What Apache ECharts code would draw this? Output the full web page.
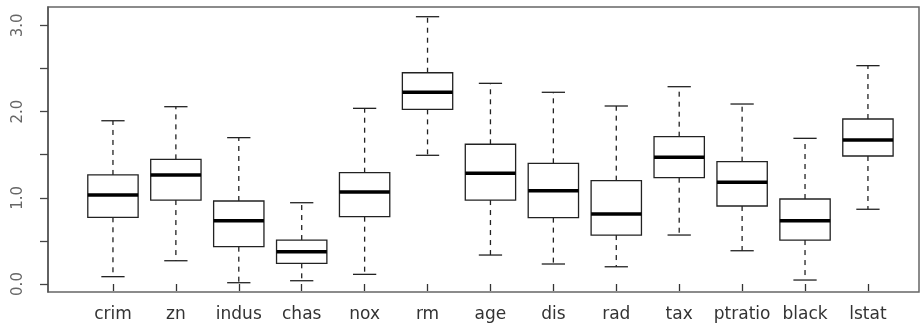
<!DOCTYPE html>
<html>
<head>
<meta charset="utf-8">
<script src="https://cdn.jsdelivr.net/npm/echarts@6/dist/echarts.min.js"></script>
<style>html,body{margin:0;padding:0;background:#fff;}#c{width:921px;height:328px;}</style>
</head>
<body>
<div id="c"></div>
<script>
const categories = ['crim','zn','indus','chas','nox','rm','age','dis','rad','tax','ptratio','black','lstat'];
const lowerWhisker = [0.085, 0.27, 0.015, 0.038, 0.112, 1.493, 0.336, 0.232, 0.20, 0.568, 0.386, 0.046, 0.867];
const q1Values     = [0.774, 0.974, 0.433, 0.24, 0.781, 2.026, 0.974, 0.77, 0.568, 1.233, 0.905, 0.51, 1.485];
const medianValues = [1.033, 1.265, 0.735, 0.375, 1.067, 2.224, 1.284, 1.083, 0.812, 1.47, 1.18, 0.735, 1.671];
const q3Values     = [1.265, 1.446, 0.963, 0.51, 1.291, 2.451, 1.621, 1.40, 1.199, 1.709, 1.419, 0.986, 1.914];
const upperWhisker = [1.894, 2.057, 1.698, 0.943, 2.038, 3.101, 2.328, 2.224, 2.065, 2.289, 2.088, 1.69, 2.533];
const yTickValues = [0, 0.5, 1, 1.5, 2, 2.5, 3];
const yLabelValues = [0, 1, 2, 3];
const yMin = -0.0928, yMax = 3.2135;

const data = categories.map((c, i) => [i, lowerWhisker[i], q1Values[i], medianValues[i], q3Values[i], upperWhisker[i]]);

const chart = echarts.init(document.getElementById('c'), null, {renderer: 'canvas'});
chart.setOption({
  backgroundColor: '#fff',
  animation: false,
  grid: [
    {left: 48, top: 7, width: 871, height: 285, show: true, borderColor: '#666', borderWidth: 1.5, backgroundColor: 'transparent'},
    {left: 81.5, top: 7, width: 817.9, height: 285}
  ],
  xAxis: [
    {type: 'value', gridIndex: 0, min: 0, max: 1, show: false},
    {type: 'category', gridIndex: 1, data: categories,
      axisLine: {show: false},
      axisTick: {show: true, interval: 0, alignWithLabel: true, length: 7, lineStyle: {color: '#333', width: 1.3}},
      axisLabel: {interval: 0, margin: 14, fontSize: 17, fontFamily: 'DejaVu Sans', color: '#333'},
      splitLine: {show: false}}
  ],
  yAxis: [
    {type: 'value', gridIndex: 0, min: yMin, max: yMax,
      axisLine: {show: true, lineStyle: {color: '#555', width: 1.5}},
      axisTick: {show: true, length: 8, customValues: yTickValues, lineStyle: {color: '#444', width: 1.3}},
      axisLabel: {customValues: yLabelValues, rotate: 90, margin: 22, fontSize: 15, fontFamily: 'DejaVu Sans', color: '#666',
        formatter: v => Number(v).toFixed(1)},
      splitLine: {show: false}},
    {type: 'value', gridIndex: 1, min: yMin, max: yMax, show: false}
  ],
  series: [{
    type: 'custom',
    xAxisIndex: 1, yAxisIndex: 1,
    data: data,
    encode: {x: 0, y: [1, 2, 3, 4, 5]},
    renderItem: function (params, api) {
      const x = api.value(0);
      const band = api.size([1, 0])[0];
      const pLo = api.coord([x, api.value(1)]);
      const pQ1 = api.coord([x, api.value(2)]);
      const pMed = api.coord([x, api.value(3)]);
      const pQ3 = api.coord([x, api.value(4)]);
      const pHi = api.coord([x, api.value(5)]);
      const cx = pMed[0];
      const hw = band * 0.4;
      const cw = band * 0.185;
      const stroke = '#222';
      const dashed = {stroke: stroke, lineWidth: 1.3, lineDash: [5, 5]};
      const solid = {stroke: stroke, lineWidth: 1.3};
      return {
        type: 'group',
        children: [
          {type: 'line', shape: {x1: cx, y1: pQ1[1], x2: cx, y2: pLo[1]}, style: dashed},
          {type: 'line', shape: {x1: cx, y1: pQ3[1], x2: cx, y2: pHi[1]}, style: dashed},
          {type: 'line', shape: {x1: cx - cw, y1: pLo[1], x2: cx + cw, y2: pLo[1]}, style: solid},
          {type: 'line', shape: {x1: cx - cw, y1: pHi[1], x2: cx + cw, y2: pHi[1]}, style: solid},
          {type: 'rect', shape: {x: cx - hw, y: pQ3[1], width: 2 * hw, height: pQ1[1] - pQ3[1]}, style: {fill: '#fff', stroke: stroke, lineWidth: 1.3}},
          {type: 'line', shape: {x1: cx - hw, y1: pMed[1], x2: cx + hw, y2: pMed[1]}, style: {stroke: '#000', lineWidth: 3.5}}
        ]
      };
    }
  }]
});
</script>
</body>
</html>
